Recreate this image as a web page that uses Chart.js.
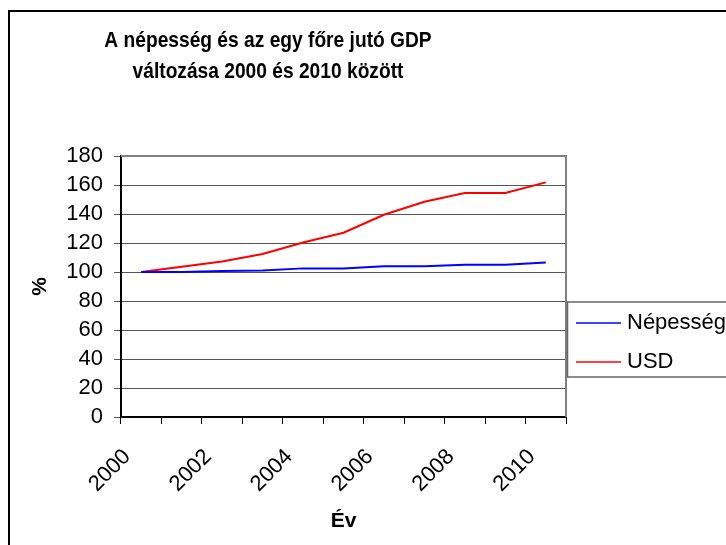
<!DOCTYPE html>
<html lang="hu">
<head>
<meta charset="UTF-8">
<title>Népesség és GDP 2000-2010</title>
<script src="https://cdn.jsdelivr.net/npm/chart.js"></script>
<style>
  body { margin: 0; background: #fff; overflow: hidden; }
  canvas { display: block; }
</style>
</head>
<body>
<canvas id="chart" width="726" height="545"></canvas>
<script>
// adatok
const years = ['2000', '2001', '2002', '2003', '2004', '2005', '2006', '2007', '2008', '2009', '2010'];
const nepesseg = [100, 100, 100.7, 101, 102.5, 102.5, 104, 104, 105, 105, 106.5];
const usd = [100, 103.7, 107.3, 112.4, 120.4, 127.1, 139.5, 148.5, 154.5, 154.5, 161.8];
const titleLines = ['A népesség és az egy főre jutó GDP', 'változása 2000 és 2010 között'];

const FONT = "'Liberation Sans', Arial, sans-serif";
Chart.defaults.font.family = FONT;
Chart.defaults.color = '#000';

// keret, cím, jelmagyarázat
const excelLook = {
    id: 'excelLook',
    beforeDraw(chart) {
        const ctx = chart.ctx;
        ctx.save();
        ctx.strokeStyle = '#000';
        ctx.lineWidth = 2;
        ctx.strokeRect(9, 11, 1000, 1000);
        ctx.restore();
    },
    beforeDatasetsDraw(chart) {
        const { ctx, chartArea: a } = chart;
        ctx.save();
        ctx.strokeStyle = '#808080';
        ctx.lineWidth = 2;
        ctx.beginPath();
        ctx.moveTo(a.left, a.top);
        ctx.lineTo(a.right, a.top);
        ctx.lineTo(a.right, a.bottom);
        ctx.stroke();
        ctx.restore();
    },
    afterDraw(chart) {
        const ctx = chart.ctx;
        ctx.save();
        // cím (keskenyített, mint az Excelben)
        ctx.fillStyle = '#000';
        ctx.font = 'bold 22px ' + FONT;
        ctx.textAlign = 'center';
        ctx.textBaseline = 'alphabetic';
        titleLines.forEach((t, i) => {
            ctx.save();
            ctx.translate(268, 47 + i * 31);
            ctx.scale(0.872, 1);
            ctx.fillText(t, 0, 0);
            ctx.restore();
        });

        // jelmagyarázat
        ctx.strokeStyle = '#666';
        ctx.lineWidth = 1.5;
        ctx.strokeRect(567.5, 302, 200, 75);
        ctx.font = '22px ' + FONT;
        ctx.textAlign = 'left';
        chart.data.datasets.forEach((ds, i) => {
            const y = 323 + i * 39;
            ctx.strokeStyle = ds.borderColor;
            ctx.lineWidth = 1.5;
            ctx.beginPath();
            ctx.moveTo(576, y);
            ctx.lineTo(621, y);
            ctx.stroke();
            ctx.fillText(ds.label, 627, y + 6);
        });
        ctx.restore();
    }
};

new Chart(document.getElementById('chart'), {
    type: 'line',
    data: {
        labels: years,
        datasets: [
            { label: 'Népesség', data: nepesseg, borderColor: '#0000ff', borderWidth: 2, pointRadius: 0, tension: 0 },
            { label: 'USD', data: usd, borderColor: '#ff0000', borderWidth: 2, pointRadius: 0, tension: 0 }
        ]
    },
    options: {
        responsive: false,
        animation: false,
        events: [],
        layout: { padding: { left: 10, top: 156, right: 160, bottom: 0 } },
        plugins: {
            legend: { display: false },
            title: { display: false },
            tooltip: { enabled: false }
        },
        scales: {
            x: {
                offset: true,
                afterFit(scale) { scale.height = 128; },
                grid: { offset: true, drawOnChartArea: false, tickLength: 7, color: '#000', lineWidth: 1 },
                border: { color: '#000', width: 2 },
                ticks: {
                    autoSkip: false,
                    minRotation: 45,
                    maxRotation: 45,
                    padding: 20,
                    labelOffset: -14,
                    font: { size: 22 },
                    callback(value, index) { return index % 2 === 0 ? this.getLabelForValue(value) : ''; }
                },
                title: { display: true, text: 'Év', font: { size: 21, weight: 'bold' }, padding: { top: 4, bottom: 11 } }
            },
            y: {
                min: 0,
                max: 180,
                afterFit(scale) { scale.width = 111; },
                grid: { color: '#555', lineWidth: 1, tickLength: 7 },
                border: { color: '#000', width: 2 },
                ticks: { stepSize: 20, autoSkip: false, padding: 11, font: { size: 22 } },
                title: { display: true, text: '%', font: { size: 21, weight: 'bold' }, padding: { top: 18, bottom: 0 } }
            }
        }
    },
    plugins: [excelLook]
});
</script>
</body>
</html>
